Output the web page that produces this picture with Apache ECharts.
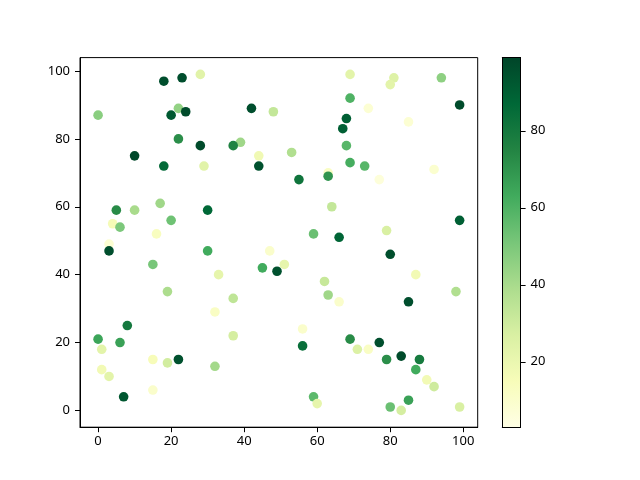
<!DOCTYPE html>
<html>
<head>
<meta charset="utf-8">
<script src="https://cdn.jsdelivr.net/npm/echarts@6/dist/echarts.min.js"></script>
<style>html,body{margin:0;padding:0;background:#fff;}#c{width:640px;height:480px;}</style>
</head>
<body>
<div id="c"></div>
<script>
var xs = [18,23,28,0,22,24,20,42,48,22,39,37,28,10,44,18,29,44,53,5,10,30,17,4,6,20,16,3,
          69,81,80,94,69,74,99,68,85,67,68,69,73,63,63,55,77,92,64,59,66,79,99,
          3,30,47,15,45,49,51,33,19,37,32,8,0,6,1,37,15,19,22,32,1,3,7,15,
          80,87,62,63,66,85,98,56,56,69,71,74,77,79,83,88,87,90,92,59,60,80,83,85,99];
var ys = [97,98,99,87,89,88,87,89,88,80,79,78,78,75,75,72,72,72,76,59,59,59,61,55,54,56,52,49,
          99,98,96,98,92,89,90,86,85,83,78,73,72,70,69,68,68,71,60,52,51,53,56,
          47,47,47,43,42,41,43,40,35,33,29,25,21,20,18,22,15,14,15,13,12,10,4,6,
          46,40,38,34,32,32,35,24,19,21,18,18,20,15,16,15,12,9,7,4,2,1,0,3,1];
var cs = [96,96,24,47,45,97,92,96,33,72,42,76,97,98,18,86,24,95,38,73,40,87,42,16,50,53,13,8,
          23,25,23,46,60,8,97,90,8,90,58,62,58,12,70,82,6,9,33,54,88,27,90,
          96,63,10,51,63,95,22,22,39,34,12,80,65,66,23,28,15,29,95,41,17,23,93,10,
          96,17,32,42,10,96,38,10,84,73,26,12,96,72,97,79,63,17,30,57,22,54,28,66,27];
var tickX = [0,20,40,60,80,100];
var tickY = [0,20,40,60,80,100];
var tickC = [20,40,60,80];
var cMin = 3, cMax = 99;
var ylgn = ['#ffffe5','#f7fcb9','#d9f0a3','#addd8e','#78c679','#41ab5d','#238443','#006837','#004529'];

var pts = xs.map(function(x,i){ return [x, ys[i], cs[i]]; });
var stops = ylgn.slice().reverse().map(function(c,i,a){ return {offset: i/(a.length-1), color: c}; });

var font = 'Noto Sans';
var lab = {color:'#000', fontSize:13, fontFamily:font};
var chart = echarts.init(document.getElementById('c'));
chart.setOption({
  animation:false,
  backgroundColor:'#fff',
  grid:[
    {left:80, top:57.6, width:397.7, height:369.6, show:true, borderColor:'#000', borderWidth:1, backgroundColor:'transparent'},
    {left:502.3, top:57.6, width:18.3, height:369.6, show:false}
  ],
  xAxis:[
    {gridIndex:0, type:'value', min:-4.95, max:103.95, splitLine:{show:false},
     axisLine:{show:true, onZero:false, lineStyle:{color:'#000'}},
     axisTick:{show:true, length:5, lineStyle:{color:'#000'}, customValues:tickX},
     axisLabel:Object.assign({margin:8, customValues:tickX}, lab)},
    {gridIndex:1, type:'category', data:['c'], position:'bottom', z:10,
     axisLine:{show:true, lineStyle:{color:'#000'}}, axisTick:{show:false}, axisLabel:{show:false}},
    {gridIndex:1, type:'category', data:['c'], position:'top', z:10,
     axisLine:{show:true, lineStyle:{color:'#000'}}, axisTick:{show:false}, axisLabel:{show:false}}
  ],
  yAxis:[
    {gridIndex:0, type:'value', min:-4.95, max:103.95, splitLine:{show:false},
     axisLine:{show:true, onZero:false, lineStyle:{color:'#000'}},
     axisTick:{show:true, length:5, lineStyle:{color:'#000'}, customValues:tickY},
     axisLabel:Object.assign({margin:10, customValues:tickY}, lab)},
    {gridIndex:1, type:'value', min:cMin, max:cMax, position:'right', z:10, splitLine:{show:false},
     axisLine:{show:true, onZero:false, lineStyle:{color:'#000'}},
     axisTick:{show:true, length:5, lineStyle:{color:'#000'}, customValues:tickC},
     axisLabel:Object.assign({margin:10, customValues:tickC}, lab)},
    {gridIndex:1, type:'value', min:cMin, max:cMax, position:'left', z:10, splitLine:{show:false},
     axisLine:{show:true, onZero:false, lineStyle:{color:'#000'}},
     axisTick:{show:false}, axisLabel:{show:false}}
  ],
  visualMap:{type:'continuous', show:false, dimension:2, min:cMin, max:cMax, seriesIndex:0,
    inRange:{color:ylgn}},
  series:[
    {type:'scatter', xAxisIndex:0, yAxisIndex:0, data:pts, symbolSize:9.6, itemStyle:{opacity:1}},
    {type:'bar', xAxisIndex:1, yAxisIndex:1, data:[cMax], barWidth:'100%', silent:true,
     itemStyle:{color:{type:'linear', x:0, y:0, x2:0, y2:1, colorStops:stops}}}
  ]
});
</script>
</body>
</html>
